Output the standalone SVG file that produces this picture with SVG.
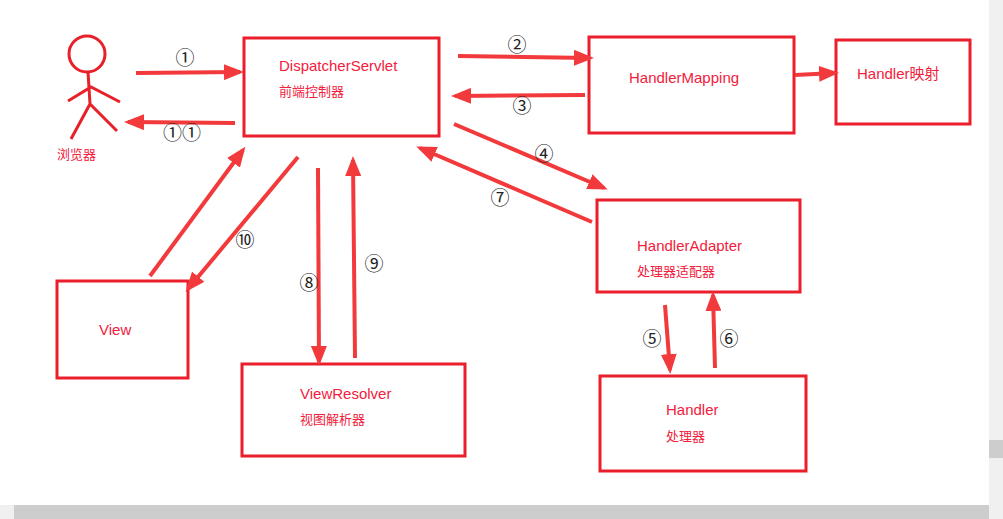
<svg xmlns="http://www.w3.org/2000/svg" width="1003" height="519" viewBox="0 0 1003 519">
<style>
.box{fill:none;stroke:#ea1f2b;stroke-width:3}
.t{font-family:"Liberation Sans","Noto Sans CJK SC",sans-serif;fill:#f2203c;font-size:15px}
.c{font-family:"Liberation Sans","Noto Sans CJK SC",sans-serif;fill:#f2203c;font-size:13px}
.n{font-family:"Noto Sans CJK SC",sans-serif;fill:#222;font-size:19px;text-anchor:middle}
.a{stroke:#f23a3c;stroke-width:4;fill:none;marker-end:url(#h)}
</style>
<defs><marker id="h" markerWidth="5" markerHeight="4" refX="4" refY="2" orient="auto"><path d="M0,0L5,2L0,4z" fill="#f23a3c"/></marker></defs>
<rect width="1003" height="519" fill="#fff"/>
<g id="browser" stroke="#e8202a" stroke-width="3" fill="none">
<circle cx="87" cy="54" r="18"/>
<path d="M88,72L90,104M68,101L91,87L120,102M71,139L90,104L117,131"/>
<text x="57" y="159" class="c" stroke="none" font-size="14">浏览器</text>
</g>
<g id="ds"><rect class="box" x="244" y="38" width="195" height="98"/><text class="t" x="279" y="71">DispatcherServlet</text><text class="c" x="279" y="96">前端控制器</text></g>
<g id="hm"><rect class="box" x="589" y="37" width="205" height="96"/><text class="t" x="629" y="83">HandlerMapping</text></g>
<g id="hmap"><rect class="box" x="836" y="40" width="134" height="84"/><text class="t" x="857" y="79">Handler映射</text></g>
<g id="ha"><rect class="box" x="597" y="200" width="203" height="92"/><text class="t" x="637" y="251">HandlerAdapter</text><text class="c" x="637" y="276">处理器适配器</text></g>
<g id="view"><rect class="box" x="57" y="281" width="131" height="97"/><text class="t" x="99" y="335">View</text></g>
<g id="vr"><rect class="box" x="242" y="364" width="223" height="92"/><text class="t" x="300" y="399">ViewResolver</text><text class="c" x="300" y="424">视图解析器</text></g>
<g id="handler"><rect class="box" x="600" y="376" width="206" height="95"/><text class="t" x="666" y="415">Handler</text><text class="c" x="666" y="441">处理器</text></g>
<g id="connectors">
<path class="a" d="M136,73L240,72"/>
<path class="a" d="M235,123L128,122"/>
<path class="a" d="M458,56L590,58"/>
<path class="a" d="M585,95L455,96"/>
<path class="a" d="M795,75L835,73"/>
<path class="a" d="M454,124L604,188"/>
<path class="a" d="M592,222L420,148"/>
<path class="a" d="M665,305L670,370"/>
<path class="a" d="M715,368L713,295"/>
<path class="a" d="M318,168L319,362"/>
<path class="a" d="M355,358L353,160"/>
<path class="a" d="M150,276L243,150"/>
<path class="a" d="M298,157L188,289"/>
</g>
<g id="labels">
<text class="n" x="185" y="65">①</text>
<text class="n" x="182" y="140">①①</text>
<text class="n" x="517" y="52">②</text>
<text class="n" x="522" y="113">③</text>
<text class="n" x="544" y="161">④</text>
<text class="n" x="500" y="205">⑦</text>
<text class="n" x="652" y="346">⑤</text>
<text class="n" x="729" y="346">⑥</text>
<text class="n" x="309" y="290">⑧</text>
<text class="n" x="374" y="271">⑨</text>
<text class="n" x="245" y="247">⑩</text>
</g>
<g id="scrollbars">
<rect x="0" y="505" width="1003" height="14" fill="#f0f0f0"/>
<rect x="14" y="505" width="975" height="14" fill="#cdcdcd"/>
<rect x="989" y="0" width="14" height="505" fill="#f0f0f0"/>
<rect x="989" y="440" width="14" height="18" fill="#cdcdcd"/>
</g>
</svg>
